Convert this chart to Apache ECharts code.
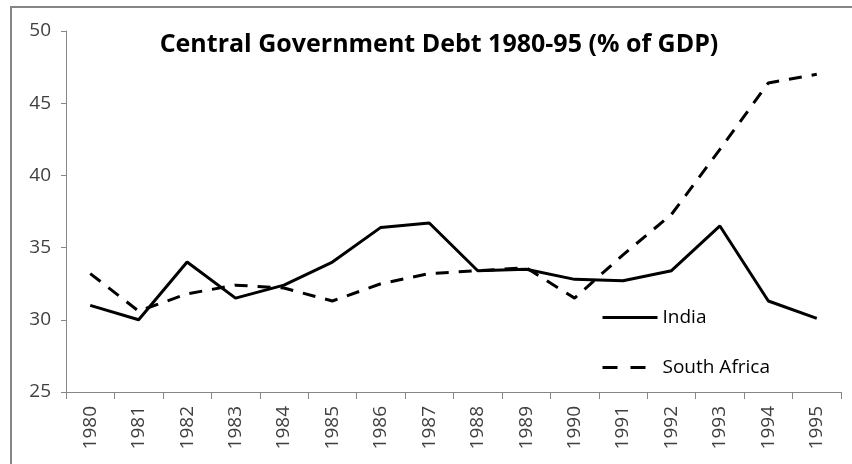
<!DOCTYPE html>
<html><head><meta charset="utf-8">
<script src="https://cdn.jsdelivr.net/npm/echarts@6/dist/echarts.min.js"></script>
<style>html,body{margin:0;padding:0;background:#fff}#c{width:852px;height:464px}</style>
</head><body><div id="c"></div>
<script>
const years = ['1980','1981','1982','1983','1984','1985','1986','1987','1988','1989','1990','1991','1992','1993','1994','1995'];
const india = [31.0, 30.0, 34.0, 31.5, 32.4, 34.0, 36.4, 36.7, 33.4, 33.5, 32.8, 32.7, 33.4, 36.5, 31.3, 30.1];
const southAfrica = [33.2, 30.6, 31.8, 32.4, 32.2, 31.3, 32.5, 33.2, 33.4, 33.6, 31.5, 34.5, 37.3, 41.8, 46.4, 47.0];
const yTicks = [25, 30, 35, 40, 45, 50];

const chart = echarts.init(document.getElementById('c'), null, {renderer: 'canvas'});
const font = '"Open Sans", sans-serif';
chart.setOption({
  animation: false,
  backgroundColor: '#fff',
  graphic: [{
    type: 'rect', shape: {x: 11, y: 7, width: 900, height: 520},
    style: {fill: 'none', stroke: '#868686', lineWidth: 2}, silent: true
  }],
  title: {
    text: 'Central Government Debt 1980-95 (% of GDP)',
    left: 434, textAlign: 'center', top: 27,
    textStyle: {fontFamily: font, fontWeight: 'bold', fontSize: 25, color: '#000'}
  },
  legend: {
    orient: 'vertical', left: 596, top: 303, itemWidth: 55, itemHeight: 20, itemGap: 31,
    itemStyle: {opacity: 0},
    lineStyle: {width: 3},
    textStyle: {fontFamily: font, fontSize: 19, color: '#000', padding: [0,0,0,0]},
    data: [
      {name: 'India'},
      {name: 'South Africa', lineStyle: {width: 3, type: [15, 13]}}
    ]
  },
  grid: {left: 66, right: 11, top: 31, bottom: 72},
  xAxis: {
    type: 'category', data: years, boundaryGap: true,
    axisLine: {lineStyle: {color: '#868686', width: 1}},
    axisTick: {show: true, length: 7, lineStyle: {color: '#868686'}},
    axisLabel: {rotate: 90, color: '#404040', fontSize: 19, fontFamily: font, margin: 14}
  },
  yAxis: {
    type: 'value', min: yTicks[0], max: yTicks[yTicks.length-1], interval: 5,
    splitLine: {show: false},
    axisLine: {show: true, lineStyle: {color: '#868686', width: 1}},
    axisTick: {show: true, length: 5, lineStyle: {color: '#868686'}},
    axisLabel: {color: '#404040', fontSize: 19, fontFamily: font, margin: 15}
  },
  series: [
    {name: 'India', type: 'line', data: india, symbol: 'none',
     lineStyle: {color: '#000', width: 3, type: 'solid'}, itemStyle: {color: '#000'}},
    {name: 'South Africa', type: 'line', data: southAfrica, symbol: 'none',
     lineStyle: {color: '#000', width: 3, type: [13, 10]}, itemStyle: {color: '#000'}}
  ]
});
</script></body></html>
